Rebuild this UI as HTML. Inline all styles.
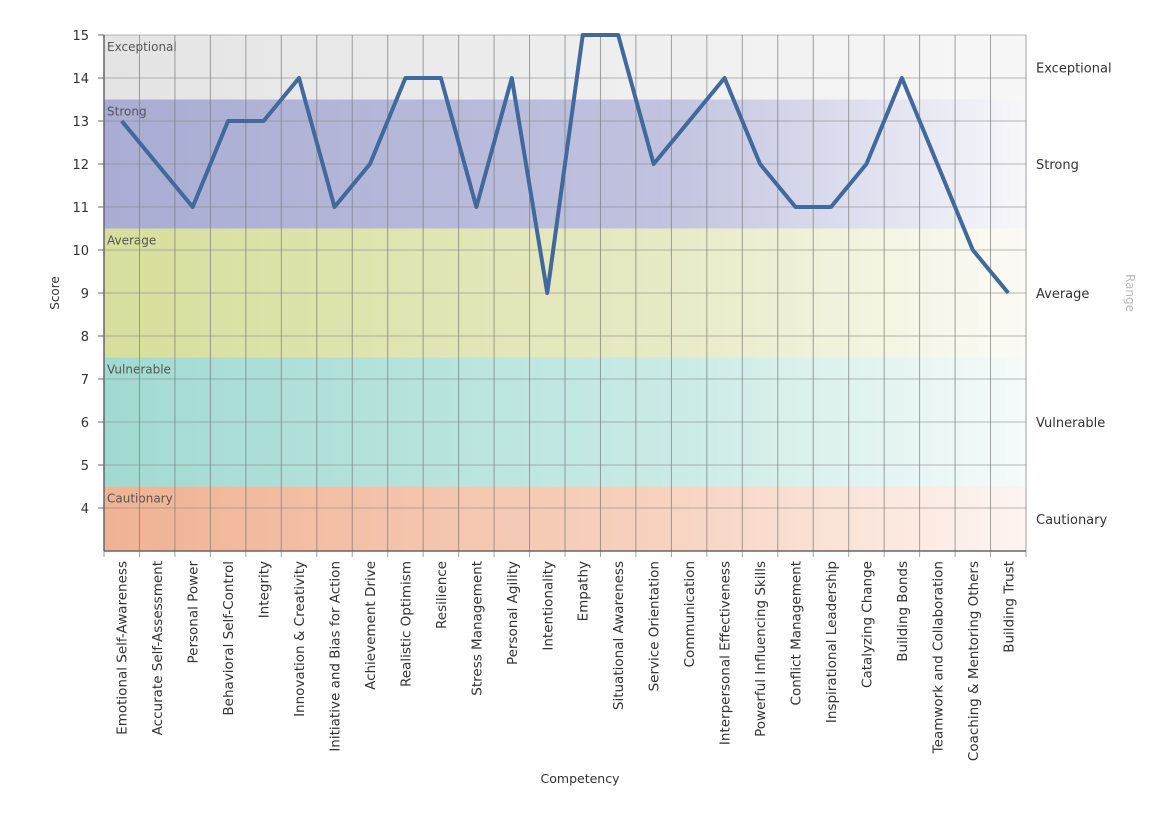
<!DOCTYPE html>
<html><head><meta charset="utf-8"><style>
body{margin:0;background:#fff;font-family:"Liberation Sans","DejaVu Sans",sans-serif;}
svg text{font-family:"DejaVu Sans","Liberation Sans",sans-serif;}
</style></head><body>
<svg id="chart" width="1172" height="834" xmlns="http://www.w3.org/2000/svg">
<defs>
<linearGradient id="gEx" x1="0" x2="1"><stop offset="0" stop-color="#e4e4e4"/><stop offset="1" stop-color="#f7f7f7"/></linearGradient>
<linearGradient id="gSt" x1="0" x2="1"><stop offset="0" stop-color="#a9acd3"/><stop offset="0.6" stop-color="#c0c2df"/><stop offset="1" stop-color="#f7f7fb"/></linearGradient>
<linearGradient id="gAv" x1="0" x2="1"><stop offset="0" stop-color="#d8de9c"/><stop offset="0.6" stop-color="#e7eac4"/><stop offset="1" stop-color="#fbfbf5"/></linearGradient>
<linearGradient id="gVu" x1="0" x2="1"><stop offset="0" stop-color="#a1dad2"/><stop offset="0.6" stop-color="#c8eae5"/><stop offset="1" stop-color="#f5fbfa"/></linearGradient>
<linearGradient id="gCa" x1="0" x2="1"><stop offset="0" stop-color="#f0b294"/><stop offset="0.6" stop-color="#f7d2bf"/><stop offset="1" stop-color="#fdf5f1"/></linearGradient>
</defs>
<g id="bands"></g><g id="grid"></g><g id="axes"></g><g id="series"></g>
</svg>
<script>
const categories=["Emotional Self-Awareness","Accurate Self-Assessment","Personal Power","Behavioral Self-Control","Integrity","Innovation & Creativity","Initiative and Bias for Action","Achievement Drive","Realistic Optimism","Resilience","Stress Management","Personal Agility","Intentionality","Empathy","Situational Awareness","Service Orientation","Communication","Interpersonal Effectiveness","Powerful Influencing Skills","Conflict Management","Inspirational Leadership","Catalyzing Change","Building Bonds","Teamwork and Collaboration","Coaching & Mentoring Others","Building Trust"];
const scores=[13,12,11,13,13,14,11,12,14,14,11,14,9,15,15,12,13,14,12,11,11,12,14,12,10,9];
const yTicks=[4,5,6,7,8,9,10,11,12,13,14,15];
const bandNames=["Exceptional","Strong","Average","Vulnerable","Cautionary"];
const bandFrom=[13.5,10.5,7.5,4.5,3];
const bandTo=[15,13.5,10.5,7.5,4.5];
const bandFill=["url(#gEx)","url(#gSt)","url(#gAv)","url(#gVu)","url(#gCa)"];
const yMin=3,yMax=15;
const L=104,R=1026,T=35,B=551;
const NS="http://www.w3.org/2000/svg";
const step=(R-L)/categories.length;
const x=i=>L+step*(i+0.5);
const y=v=>B-(v-yMin)/(yMax-yMin)*(B-T);
function mk(tag,attrs,parent,text){const e=document.createElementNS(NS,tag);for(const k in attrs)e.setAttribute(k,attrs[k]);if(text!==undefined)e.textContent=text;parent.appendChild(e);return e;}
const bands=document.getElementById('bands'),grid=document.getElementById('grid'),axes=document.getElementById('axes'),series=document.getElementById('series');
bandNames.forEach((n,i)=>{
 const r=mk('rect',{x:L,y:y(bandTo[i]),width:R-L,height:y(bandFrom[i])-y(bandTo[i]),fill:bandFill[i]},bands);
 
 
 const t=mk('text',{x:L+3,y:y(bandTo[i])+16,'font-size':12,fill:'#555'},bands,n);
 
 
 const rt=mk('text',{x:1036,y:(y(bandTo[i])+y(bandFrom[i]))/2+5,'font-size':13,fill:'#333'},axes,n);
 
 
});
yTicks.forEach(v=>{
 const g=mk('line',{x1:L,x2:R,y1:y(v),y2:y(v),stroke:'#8a8a8a','stroke-opacity':0.6,'stroke-width':1},grid);
 
 
 mk('line',{x1:L-6,x2:L,y1:y(v),y2:y(v),stroke:'#666'},axes);
 const t=mk('text',{x:L-15,y:y(v)+5,'font-size':13,fill:'#333','text-anchor':'end'},axes,String(v));
 
 
});
for(let i=0;i<=categories.length;i++){
 const gx=L+step*i;
 const g=mk('line',{x1:gx,x2:gx,y1:T,y2:B+6,stroke:'#7a7a7a','stroke-opacity':0.7,'stroke-width':1},grid);
 
 
}
categories.forEach((c,i)=>{
 const t=mk('text',{transform:`translate(${x(i)+5},${B+10}) rotate(-90)`,'font-size':13.5,fill:'#333','text-anchor':'end'},axes,c);
 
 
});
mk('line',{x1:L,x2:L,y1:T,y2:B,stroke:'#666','stroke-width':1.5},axes);
mk('line',{x1:L,x2:R,y1:B,y2:B,stroke:'#666','stroke-width':1.5},axes);
const yt=mk('text',{transform:`translate(59,${(T+B)/2}) rotate(-90)`,'font-size':12,fill:'#333','text-anchor':'middle'},axes,'Score');


const xt=mk('text',{x:(L+R)/2+15,y:783,'font-size':12.5,fill:'#333','text-anchor':'middle'},axes,'Competency');


const rt=mk('text',{transform:`translate(1126,293) rotate(90)`,'font-size':12,fill:'#bbb','text-anchor':'middle'},axes,'Range');


const line=mk('polyline',{points:scores.map((v,i)=>x(i)+','+y(v)).join(' '),fill:'none',stroke:'#41699b','stroke-width':4,'stroke-linejoin':'round'},series);


</script>
</body></html>
